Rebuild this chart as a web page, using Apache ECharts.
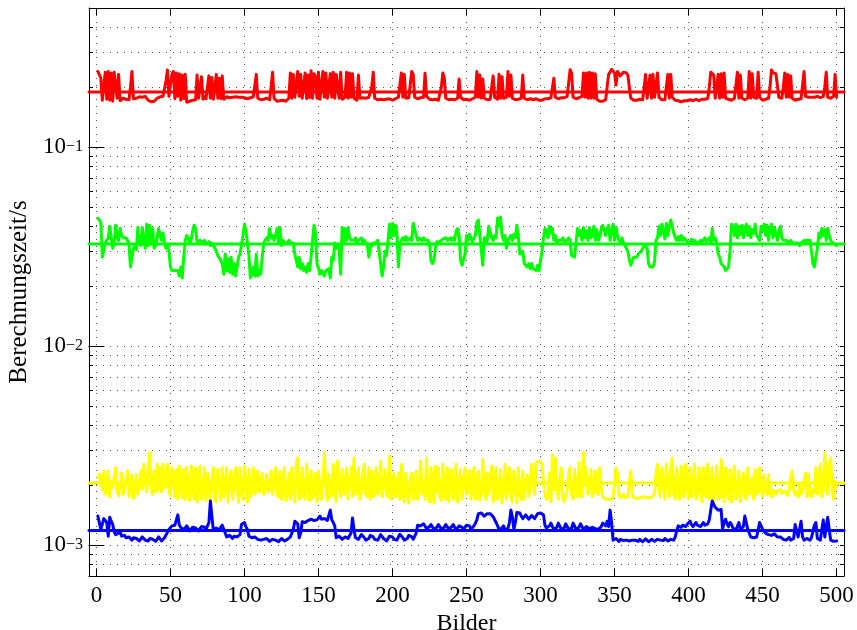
<!DOCTYPE html>
<html>
<head>
<meta charset="utf-8">
<script src="https://cdn.jsdelivr.net/npm/echarts@6/dist/echarts.min.js"></script>
<style>
html,body{margin:0;padding:0;background:#fff;}
#chart{width:857px;height:630px;}
</style>
</head>
<body>
<div id="chart"></div>
<script>
// ---- data ----
// red series, milliseconds per frame (frames 1..500)
const redMs = [
240,236,222,172,171,238,174,240,172,236,
170,238,234,176,232,171,173,176,172,174,
175,173,200,240,175,172,176,178,179,177,
178,176,180,178,172,170,169,171,170,172,
176,178,179,177,180,178,215,244,180,176,
232,240,175,236,180,234,172,230,175,232,
168,166,170,168,172,175,173,230,176,175,
226,174,180,175,172,228,176,224,174,178,
232,176,222,175,228,174,178,179,178,177,
178,178,177,179,178,178,177,178,176,177,
176,175,176,177,178,179,180,232,176,174,
173,172,174,175,176,174,173,200,238,176,
172,170,169,171,170,172,171,170,173,176,
236,176,232,178,174,240,180,232,176,178,
236,175,230,177,242,176,234,226,176,238,
174,176,240,178,236,176,174,234,178,238,
176,232,236,176,238,174,176,178,238,176,
236,178,234,176,174,172,230,176,175,177,
178,176,175,178,177,200,238,176,174,173,
172,174,175,173,172,174,176,175,173,172,
174,175,176,178,180,236,178,232,176,175,
177,178,240,232,178,176,175,176,177,176,
178,235,180,176,174,172,173,175,174,173,
172,174,200,236,222,176,174,173,172,174,
175,173,174,176,220,178,175,173,172,174,
173,172,174,175,176,178,240,178,230,176,
220,176,174,173,172,174,176,228,178,176,
174,232,176,226,176,175,178,240,180,230,
176,174,173,172,174,175,176,230,176,174,
173,174,175,174,173,174,175,174,172,171,
172,174,175,176,175,176,177,178,222,178,
176,175,176,177,178,177,178,180,210,245,
236,178,176,175,176,177,178,180,236,178,
236,176,238,176,236,176,234,174,171,170,
169,170,171,173,176,232,238,246,244,236,
205,240,236,228,232,238,234,236,230,200,
176,174,172,171,172,173,174,172,173,176,
232,176,174,230,176,232,178,176,236,178,
174,173,172,173,174,232,176,232,178,174,
172,170,171,170,169,170,171,172,171,172,
173,172,171,173,174,172,171,173,174,173,
174,175,176,200,238,236,230,176,175,232,
176,234,178,236,176,175,174,173,172,174,
176,178,238,176,230,176,174,173,175,176,
240,176,234,178,176,176,238,178,174,172,
173,174,175,176,200,244,236,232,234,230,
178,175,176,200,236,178,232,178,228,176,
174,172,173,174,176,175,178,240,180,177,
178,179,178,177,178,179,180,178,177,179,
180,200,238,178,177,176,175,180,232,178
];
// green series, milliseconds per frame
const greenMs = [
44,43.5,42,28,27.5,33,34,35,40,39.5,
31,33,40.5,35,34,39,36,35,34.5,35,
34,33,25,24.5,31,32,30.5,39.5,33,32,
39.5,34,31,41,32,40.5,33,39,31,32,
35,39,36,34,37,33,31,32,30,25,
24,23.5,24,24.5,24,22.5,25,22,28,34,
36,35,33,34,38,40.5,39,33.5,33,34,
33.5,33,34,32.5,33,33.5,32,33,32.5,31,
30,28.5,29,27,26,23,29,24,27.5,23.5,
28,23,26,22.5,25,28,29,28.5,36,41,
38,33,28.5,22,23,25,22.5,29,22.5,24,
23,28,33,34,35,34,39,35,36,34,
36,39,33,39.5,32,34,33,33.5,33,34,
33,32.5,33,29,27,25,28,24.5,26,24,
25,23.5,26,24,28,34,40.5,37,26,24.5,
23,24,23.5,22.5,24,23.5,24.5,22,28,27,
33,31,32,30,23,39.5,33,39,34,39.5,
35,34,33.5,34,35,33,34,33.5,35,33,
34,33,32,28,31,32,33,32.5,33,34,
30,26,22.5,25,30,28.5,29,41,35,41.5,
36,40.5,37,25,33,34,35,34,35.5,34,
34.5,35,34,41.5,42,36,34,35,34.5,34,
35,34,33.5,34,33,27,26,27,31,33.5,
34,33.5,34,34.5,34,35,34,34.5,35,34,
35,34,38,39,36,27,25.5,25,29,36,
34,36.5,35,33.5,34,36,42,43,36,36,
25.5,35,33,34,40,39.5,35,34,36,35,
44,40,44.5,36,34,36,31,34,35,36,
34,36.5,35,40.5,36,29,28.5,30,26,25.5,
25,26,24.5,26,24.5,25,24,25.5,24,23.5,
30,35,39,38,35,40,37,39,34,36,
33,34,34.5,34,35,33.5,34,34,35,34,
28.5,29,28,33,39,36,38,34,39.5,35,
38,34,39.5,35,36,40,34,38.5,34,35.5,
39,40.5,38,36,39,40.5,34,38,41,34,
39.5,36,34,33,35,33,32.5,31,30,27,
25.5,27,28,28.5,28,29,28.5,30,31,32,
32,31,26,25,24.5,25,26.5,34,35,40,
36,41,38,34.5,41.5,36,40,43,44,37,
35,34,35.5,34,36,34,35,34.5,33.5,34,
33,34.5,33,34,33.5,32.5,33,34,33,34,
35,33.5,34,35,33,39,34,35,33,29,
28,26,25.5,25,24,23.5,25,30,41,40,
36,41,35,40,36.5,40.5,35,39,41,36,
40,35,38.5,37,41,36,35.5,34,40,38,
41,36,40.5,34,39,41,35,39.5,40,34,
38,40,35,34,33.5,34,33,33.5,34,33,
33.5,33,32.5,33,32,33,32.5,34,33,34,
33.5,34,30,26,25,24.5,31,37,35,39,
36,38.5,34,39,36,34,33,33.5,32.5,32
];
// yellow series, microseconds per frame
const yellowUs = [
2180,2270,2100,1900,2360,1800,2000,2360,1750,2100,
1950,2200,2450,1850,1780,2050,2300,1800,1900,2150,
2360,1750,1950,2250,1720,1850,2270,1800,2000,2360,
1900,2550,2100,1850,2450,2920,2000,1800,2360,1850,
2550,1900,2450,1850,2550,1950,2000,2550,1850,1780,
2450,2300,1750,2400,1700,2500,2000,1730,2400,1700,
2450,1900,1680,2500,2100,1700,2450,1650,2050,2500,
1700,1850,2450,1680,2300,2350,1650,2100,2450,1700,
1650,2400,2000,1680,2450,1750,2000,2450,1650,2150,
2360,1700,1680,2450,2200,1640,2450,1800,1700,2500,
2100,1650,2400,1750,1900,2450,1800,2000,2360,1850,
2050,2300,1800,1950,2270,1850,1900,2360,1800,2050,
2450,1800,1750,2360,1700,2100,2450,1680,1800,2300,
1700,2450,1900,1650,2550,2750,1700,1850,2450,1750,
1700,2550,2000,1680,2360,1720,1800,2300,1650,2360,
1900,1700,2100,2920,2000,1680,2270,1750,1800,2550,
1850,1650,2650,2000,1750,2400,1800,1780,2450,1700,
2100,2450,1750,2750,1800,2000,2450,1700,1850,2300,
2550,1800,1750,2450,1700,2360,1750,2000,2450,1800,
1950,2650,1750,2000,2400,1800,1750,2800,1700,2100,
2300,1750,2000,2300,1700,2550,1850,1650,2300,1800,
1630,2150,2300,1700,1800,2350,1700,1900,2650,1800,
2000,1700,2750,1800,1650,2450,1950,1630,2500,1850,
2450,1750,1680,2550,1800,1700,2450,1650,2100,2400,
1700,1800,2550,1650,2000,2400,1700,1700,2450,1800,
1850,2360,1700,2050,2450,1700,2100,2360,1680,1800,
2700,1900,1700,2300,1800,2100,2500,1650,2000,2450,
1700,1850,2400,1630,1900,2550,1700,2000,2450,1750,
1650,2360,2000,1630,2450,1800,1700,2360,1700,2100,
2250,1750,2000,2550,2150,1800,2600,2650,2650,2600,
2550,2100,1800,1700,1750,2300,1650,2850,1900,2750,
2000,1700,2100,2450,1750,1650,1630,1900,2300,2450,
1800,1700,2400,1900,1750,2600,1800,1750,2920,2000,
2450,1800,1950,2400,1750,1850,2360,1900,1800,2450,
1950,1750,1720,1700,1680,1700,1720,1700,1750,2000,
2450,2300,1800,1730,1750,1800,1730,1700,1750,2100,
2360,1800,1730,1750,1720,1740,1730,1720,1750,1730,
1740,1720,1730,1750,1740,1760,1800,2300,2550,1900,
1750,2450,2000,1700,2550,2100,1750,2500,2750,1800,
1700,2450,2000,1700,2500,1800,1750,2550,2000,1700,
2450,1750,2000,2550,1700,1800,2450,2100,1650,2450,
1800,1750,2550,1700,2000,2450,1650,1900,2500,1700,
1750,2700,2000,1650,2450,1850,1700,2400,1650,2100,
2500,1700,1800,2360,1650,1950,2300,1750,1700,2450,
1800,1900,2200,1700,2400,1800,1850,2450,1950,1750,
2250,1850,1800,2270,1800,1750,1900,1850,1800,1880,
1850,1900,1820,1800,1880,1850,1780,1900,2200,2360,
1900,1800,1850,1750,2000,1800,1850,2100,2300,1750,
2270,1800,1750,1900,1850,2450,1800,2100,2550,1750,
1900,2920,2100,1800,2500,2750,1900,1700,2100,1950
];
// blue series, microseconds per frame
const blueUs = [
1400,1390,1200,1190,1360,1340,1300,1110,1380,1320,
1270,1170,1130,1110,1150,1180,1110,1100,1120,1090,
1070,1100,1080,1060,1090,1100,1080,1060,1050,1070,
1100,1090,1060,1045,1050,1080,1100,1070,1050,1045,
1070,1100,1080,1050,1060,1090,1110,1160,1200,1190,
1250,1230,1260,1270,1420,1260,1230,1200,1190,1220,
1250,1230,1180,1200,1230,1250,1220,1200,1180,1210,
1240,1220,1230,1200,1180,1300,1667,1400,1190,1200,
1220,1200,1190,1230,1260,1250,1150,1100,1090,1120,
1100,1080,1110,1090,1100,1120,1130,1270,1250,1300,
1240,1200,1110,1100,1090,1085,1100,1080,1070,1080,
1060,1050,1070,1090,1080,1060,1045,1050,1070,1080,
1060,1050,1040,1060,1080,1070,1050,1045,1070,1090,
1100,1085,1200,1320,1330,1280,1090,1150,1310,1320,
1300,1290,1330,1320,1350,1380,1330,1310,1340,1370,
1400,1350,1330,1360,1340,1330,1350,1500,1340,1300,
1250,1090,1100,1110,1090,1070,1080,1100,1090,1080,
1100,1150,1370,1200,1090,1080,1070,1100,1130,1120,
1090,1060,1050,1080,1120,1130,1100,1070,1050,1060,
1090,1130,1120,1080,1060,1050,1070,1110,1130,1100,
1070,1050,1060,1100,1135,1120,1090,1060,1050,1080,
1120,1130,1100,1070,1060,1150,1260,1270,1250,1240,
1280,1260,1210,1190,1240,1270,1250,1200,1190,1230,
1270,1240,1200,1190,1230,1270,1240,1200,1190,1240,
1270,1230,1200,1190,1250,1270,1230,1200,1220,1260,
1280,1250,1200,1210,1250,1290,1340,1440,1460,1450,
1430,1400,1410,1440,1450,1440,1420,1390,1410,1300,
1250,1200,1190,1220,1250,1200,1180,1210,1300,1500,
1380,1200,1300,1460,1480,1450,1400,1360,1380,1420,
1400,1350,1370,1410,1400,1360,1380,1440,1460,1450,
1440,1420,1260,1220,1210,1250,1290,1240,1200,1190,
1230,1290,1250,1200,1190,1220,1280,1240,1200,1190,
1220,1290,1250,1200,1190,1230,1280,1240,1200,1210,
1240,1230,1210,1200,1230,1240,1210,1190,1200,1180,
1240,1290,1300,1250,1320,1240,1500,1300,1060,1050,
1080,1060,1045,1070,1080,1055,1040,1060,1075,1050,
1035,1060,1080,1060,1040,1045,1070,1060,1040,1050,
1075,1060,1040,1050,1070,1065,1045,1040,1070,1080,
1060,1040,1055,1080,1070,1050,1045,1070,1090,1060,
1100,1180,1250,1240,1230,1260,1250,1240,1270,1250,
1320,1270,1240,1250,1300,1260,1250,1240,1270,1300,
1260,1250,1280,1340,1500,1667,1600,1550,1540,1500,
1490,1510,1200,1300,1350,1280,1240,1300,1270,1220,
1200,1190,1210,1300,1200,1180,1240,1400,1380,1200,
1190,1100,1110,1090,1080,1100,1090,1300,1250,1200,
1180,1150,1140,1130,1150,1120,1110,1140,1120,1100,
1090,1100,1080,1070,1085,1060,1075,1095,1060,1050,
1080,1270,1250,1100,1080,1320,1100,1060,1050,1080,
1070,1060,1090,1080,1260,1300,1080,1070,1060,1070,
1340,1100,1080,1380,1200,1060,1040,1045,1050,1050
];
// mean values (seconds)
const meanRed = 0.189;
const meanGreen = 0.0326;
const meanYellow = 0.00205;
const meanBlue = 0.001186;

// axis ticks
const xTicks = [0, 50, 100, 150, 200, 250, 300, 350, 400, 450, 500];
const yMajor = [0.001, 0.01, 0.1];
const yMinor = [0.0008, 0.0009, 0.002, 0.003, 0.004, 0.005, 0.006, 0.007, 0.008, 0.009,
                0.02, 0.03, 0.04, 0.05, 0.06, 0.07, 0.08, 0.09, 0.2, 0.3, 0.4, 0.5];
const xMin = -5, xMax = 505, yMin = 0.0007, yMax = 0.5;

// ---- chart ----
const toPairs = (arr, scale) => arr.map((v, i) => [i + 1, v * scale]);
const meanLine = m => [[xMin, m], [xMax, m]];
const FONT = '"Liberation Serif", "Times New Roman", serif';
const yAll = yMinor.concat(yMajor).sort((a, b) => a - b);

const gridLine = { show: true, lineStyle: { color: '#555', width: 1, type: [1, 6] } };

function lineSeries(data, color, z) {
  return {
    type: 'line', data: data, xAxisIndex: 0, yAxisIndex: 0,
    showSymbol: false, symbol: 'none', silent: true, z: z,
    lineStyle: { color: color, width: 3, join: 'round', cap: 'round' },
    itemStyle: { color: color }
  };
}

const yBase = {
  type: 'log', logBase: 10, min: yMin, max: yMax, gridIndex: 0
};

const option = {
  animation: false,
  backgroundColor: '#fff',
  grid: { left: 89, right: 13, top: 8, bottom: 54, outerBoundsMode: 'none', containLabel: false },
  xAxis: [
    {
      type: 'value', min: xMin, max: xMax, position: 'bottom',
      axisLine: { show: true, onZero: false, lineStyle: { color: '#000', width: 1 } },
      axisTick: { show: true, inside: true, length: 7, customValues: xTicks, lineStyle: { color: '#000', width: 1 } },
      axisLabel: { show: true, customValues: xTicks, margin: 8, color: '#000', fontFamily: FONT, fontSize: 23 },
      splitLine: gridLine,
      name: 'Bilder', nameLocation: 'middle', nameGap: 30,
      nameTextStyle: { color: '#000', fontFamily: FONT, fontSize: 24 }
    },
    {
      type: 'value', min: xMin, max: xMax, position: 'top',
      axisLine: { show: true, onZero: false, lineStyle: { color: '#000', width: 1 } },
      axisTick: { show: true, inside: true, length: 7, customValues: xTicks, lineStyle: { color: '#000', width: 1 } },
      axisLabel: { show: false },
      splitLine: { show: false }
    }
  ],
  yAxis: [
    Object.assign({}, yBase, {
      position: 'left',
      axisLine: { show: true, onZero: false, lineStyle: { color: '#000', width: 1 } },
      axisTick: { show: true, inside: true, length: 4, customValues: yAll, lineStyle: { color: '#000', width: 1 } },
      axisLabel: {
        show: true, customValues: yMajor, margin: 23, padding: [4, 0, 0, 0],
        color: '#000', fontFamily: FONT, fontSize: 23,
        formatter: () => '10'
      },
      splitLine: gridLine,
      name: 'Berechnungszeit/s', nameLocation: 'middle', nameGap: 55,
      nameTextStyle: { color: '#000', fontFamily: FONT, fontSize: 25 }
    }),
    Object.assign({}, yBase, {
      position: 'right',
      axisLine: { show: true, onZero: false, lineStyle: { color: '#000', width: 1 } },
      axisTick: { show: true, inside: true, length: 4, customValues: yAll, lineStyle: { color: '#000', width: 1 } },
      axisLabel: { show: false },
      splitLine: { show: false }
    }),
    Object.assign({}, yBase, {
      position: 'left',
      axisLine: { show: false },
      axisTick: { show: true, inside: true, length: 8, customValues: yMajor, lineStyle: { color: '#000', width: 1 } },
      axisLabel: {
        show: true, customValues: yMajor, margin: 6, padding: [0, 0, 27, 0],
        color: '#000', fontFamily: FONT, fontSize: 16,
        formatter: v => '\u2212' + Math.round(-Math.log10(v))
      },
      splitLine: { show: false }
    }),
    Object.assign({}, yBase, {
      position: 'right',
      axisLine: { show: false },
      axisTick: { show: true, inside: true, length: 8, customValues: yMajor, lineStyle: { color: '#000', width: 1 } },
      axisLabel: { show: false },
      splitLine: { show: false }
    })
  ],
  series: [
    lineSeries(toPairs(redMs, 0.001), '#ff0000', 2),
    lineSeries(meanLine(meanRed), '#ff0000', 3),
    lineSeries(toPairs(greenMs, 0.001), '#00ff00', 2),
    lineSeries(meanLine(meanGreen), '#00ff00', 3),
    lineSeries(toPairs(yellowUs, 0.000001), '#ffff00', 2),
    lineSeries(meanLine(meanYellow), '#ffff00', 3),
    lineSeries(toPairs(blueUs, 0.000001), '#0000ff', 2),
    lineSeries(meanLine(meanBlue), '#0000ff', 3)
  ]
};

const chart = echarts.init(document.getElementById('chart'), null, { renderer: 'canvas' });
chart.setOption(option);
</script>
</body>
</html>
